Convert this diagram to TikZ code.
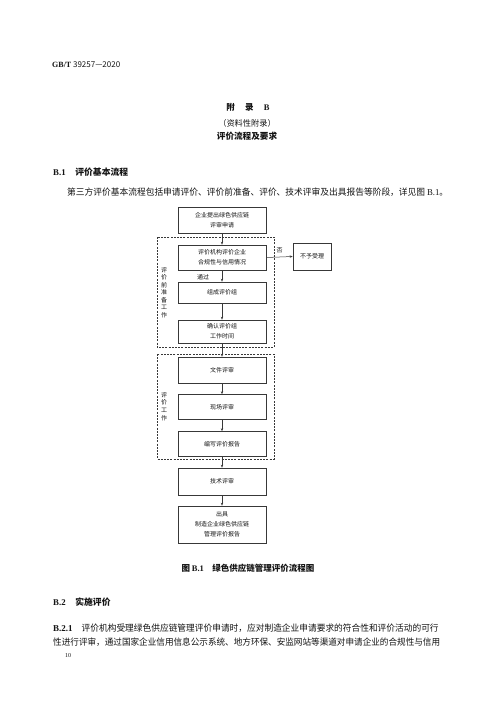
\documentclass[tikz,border=0pt]{standalone}
\usepackage{fontspec}
\usepackage{graphicx}
\setmainfont{Noto Sans CJK SC}
\newfontfamily\lser{Liberation Serif}
\usetikzlibrary{arrows.meta}
\definecolor{ink}{gray}{0.08}
\definecolor{linec}{gray}{0.22}
\newcommand\mytight{\lineskiplimit=-20pt\relax\lineskip=0pt\relax}
\newcommand\vchars[2]{\vbox{\baselineskip=#1\lineskiplimit=-20pt\lineskip=0pt\relax
  \def\c##1{\hbox to 6pt{\hss##1\hss}}#2}}
\tikzset{
  x=1pt,y=-1pt,
  box/.style={draw=linec,line width=0.6pt,minimum width=88pt,inner sep=0pt,align=center,
     font=\fontsize{6}{10}\selectfont\mytight,text=ink},
  dbox/.style={draw=linec,line width=0.9pt,dash pattern=on 2pt off 1.2pt},
  arr/.style={draw=linec,line width=0.5pt,-{Stealth[length=3pt,width=2.4pt]}},
  vlab/.style={font=\fontsize{6}{7.5}\selectfont,text=ink,inner sep=0pt},
  txt/.style={anchor=west,inner sep=0pt,text=ink},
}
\begin{document}
\begin{tikzpicture}
\useasboundingbox[fill=white] (0,0) rectangle (500,707);
% header
\node[txt,font=\fontsize{8}{9}\selectfont] (hdr) at (52,65) {{\lser\bfseries GB/T} 39257—2020};
\node[inner sep=0pt,text=ink,font=\fontsize{8.5}{10}\selectfont\bfseries] (t1) at (248,107) {附\hspace{1.2em}录\hspace{1.2em}{\lser B}};
\node[inner sep=0pt,text=ink,font=\fontsize{8.2}{10}\selectfont] (t2) at (247,123) {（资料性附录）};
\node[inner sep=0pt,text=ink,font=\fontsize{8.6}{10}\selectfont\bfseries] (t3) at (247,136) {评价流程及要求};
\node[txt,font=\fontsize{8.8}{10}\selectfont\bfseries] (h1) at (53,172) {{\lser B.1}\hspace{1.1em}评价基本流程};
\node[txt,font=\fontsize{9}{10}\selectfont] (p1) at (67,192) {\resizebox{381pt}{\height}{第三方评价基本流程包括申请评价、评价前准备、评价、技术评审及出具报告等阶段，详见图 {\lser B.1}。}};
% dashed groups
\draw[dbox] (157,237) rectangle (274,347);
\draw[dbox] (157,354) rectangle (274,459);
% boxes
\node[box,minimum height=26pt] (b1) at (222,220) {企业提出绿色供应链\\评审申请};
\node[box,minimum height=25pt] (b2) at (222,257.5) {评价机构评价企业\\合规性与信用情况};
\node[box,minimum height=21pt] (b3) at (222,292.5) {组成评价组};
\node[box,minimum height=23pt] (b4) at (222,331.5) {确认评价组\\工作时间};
\node[box,minimum height=26pt] (b5) at (222,370) {文件评审};
\node[box,minimum height=25pt] (b6) at (222,407) {现场评审};
\node[box,minimum height=25pt] (b7) at (222,444) {编写评价报告};
\node[box,minimum height=27pt] (b8) at (222,481.5) {技术评审};
\node[box,minimum height=37pt] (b9) at (222,524.5) {出具\\制造企业绿色供应链\\管理评价报告};
\node[box,minimum width=38pt,minimum height=27pt] (rej) at (312,256.5) {不予受理};
% vertical labels
\node[vlab] (v1) at (164,292.5) {\vchars{7.5pt}{\c{评}\c{价}\c{前}\c{准}\c{备}\c{工}\c{作}}};
\node[vlab] (v2) at (164,406.5) {\vchars{7.7pt}{\c{评}\c{价}\c{工}\c{作}}};
% arrows
\draw[arr] (b1) -- (b2);
\draw[arr] (b2) -- (b3);
\draw[arr] (b3) -- (b4);
\draw[arr] (b4) -- (b5);
\draw[arr] (b5) -- (b6);
\draw[arr] (b6) -- (b7);
\draw[arr] (b7) -- (b8);
\draw[arr] (b8) -- (b9);
\draw[arr] (b2.east) -- (rej.west);
\node[inner sep=0pt,text=ink,font=\fontsize{6}{7}\selectfont] (no) at (279.5,250) {否};
\node[inner sep=0pt,text=ink,font=\fontsize{6}{7}\selectfont] (pass) at (203,277) {通过};
% caption
\node[inner sep=0pt,text=ink,font=\fontsize{8.5}{10}\selectfont\bfseries] (cap) at (248,568) {图 {\lser B.1}\hspace{1em}绿色供应链管理评价流程图};
% B.2
\node[txt,font=\fontsize{8.8}{10}\selectfont\bfseries] (h2) at (53,602) {{\lser B.2}\hspace{1.1em}实施评价};
\node[txt,font=\fontsize{9}{10}\selectfont] (l1) at (53,628) {{\lser\bfseries B.2.1}\hspace{1em}\resizebox{357pt}{\height}{评价机构受理绿色供应链管理评价申请时，应对制造企业申请要求的符合性和评价活动的可行}};
\node[txt,font=\fontsize{9}{10}\selectfont] (l2) at (53,642) {\resizebox{387pt}{\height}{性进行评审，通过国家企业信用信息公示系统、地方环保、安监网站等渠道对申请企业的合规性与信用}};
\node[txt,font=\fontsize{6}{7}\selectfont] (pg) at (65,656) {{\lser 10}};
\end{tikzpicture}
\end{document}
